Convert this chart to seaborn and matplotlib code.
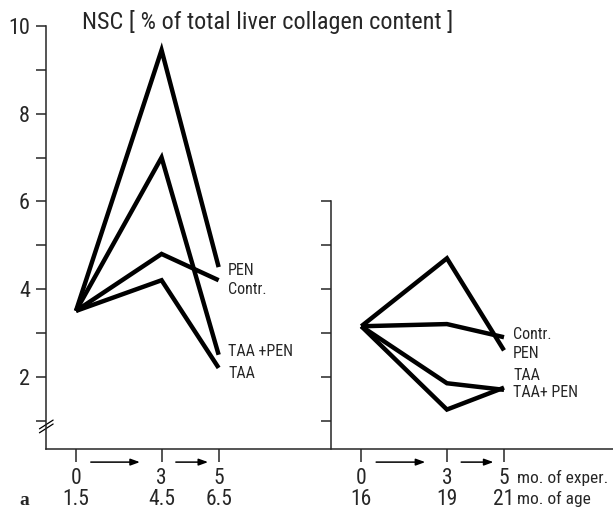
import matplotlib
matplotlib.use("Agg")
import matplotlib.pyplot as plt
from matplotlib import font_manager
import pandas as pd
import seaborn as sns

# --- data -------------------------------------------------------------
months = [0, 3, 5]
age_young = ["1.5", "4.5", "6.5"]
age_old = ["16", "19", "21"]

groups_young = ["PEN", "Contr.", "TAA +PEN", "TAA"]
young_pen = [3.5, 9.45, 4.5]
young_contr = [3.5, 4.8, 4.2]
young_taa_pen = [3.5, 7.0, 2.5]
young_taa = [3.5, 4.2, 2.2]
young_label_y = [4.43, 4.0, 2.57, 2.07]

groups_old = ["Contr.", "PEN", "TAA", "TAA+ PEN"]
old_contr = [3.15, 3.2, 2.9]
old_pen = [3.15, 4.7, 2.6]
old_taa = [3.15, 1.85, 1.7]
old_taa_pen = [3.15, 1.25, 1.75]
old_label_y = [2.97, 2.52, 2.02, 1.63]

title = "NSC [ % of total liver collagen content ]"


def long_table(groups, series):
    rows = []
    for g, vals in zip(groups, series):
        for m, v in zip(months, vals):
            rows.append({"month": m, "nsc": v, "group": g})
    return pd.DataFrame(rows)


df_young = long_table(groups_young, [young_pen, young_contr, young_taa_pen, young_taa])
df_old = long_table(groups_old, [old_contr, old_pen, old_taa, old_taa_pen])

# --- style ------------------------------------------------------------
sns.set_style("ticks")
available = {f.name for f in font_manager.fontManager.ttflist}
narrow = next((f for f in ["Liberation Sans Narrow", "DejaVu Sans Condensed",
                           "Roboto Condensed", "Liberation Sans"] if f in available),
              "DejaVu Sans")
plt.rcParams["font.family"] = [narrow, "DejaVu Sans"]
plt.rcParams["axes.linewidth"] = 1.1

W, H = 613, 518
fig = plt.figure(figsize=(W / 100, H / 100), dpi=100)

# main axes: left panel + full-width time axis
X0, X1 = -1.05, 18.82
Y0, Y1 = 0.35, 10.0
ax1 = fig.add_axes([46 / W, 1 - 449 / H, 567 / W, 423 / H])
ax1.set_xlim(X0, X1)
ax1.set_ylim(Y0, Y1)
for s in ["top", "right"]:
    ax1.spines[s].set_visible(False)

line_kw = dict(lw=3.2, solid_joinstyle="miter", solid_capstyle="butt", clip_on=False)
sns.lineplot(data=df_young, x="month", y="nsc", hue="group", units="group",
             estimator=None, palette=["black"] * 4, legend=False, ax=ax1,
             sort=False, **line_kw)

ax1.set_yticks(range(1, 11))
ax1.set_yticklabels([str(v) if v % 2 == 0 else "" for v in range(1, 11)])
ax1.tick_params(axis="y", direction="out", length=7.5, width=1.1, pad=4, labelsize=16)

right_offset = 10
ax1.set_xticks(months + [m + right_offset for m in months])
ax1.set_xticklabels([f"{m}\n{a}" for m, a in zip(months, age_young)] +
                    [f"{m}\n{a}" for m, a in zip(months, age_old)],
                    linespacing=0.98)
ax1.tick_params(axis="x", direction="out", length=9, width=1.1, pad=5, labelsize=15.5)
ax1.set_xlabel("")
ax1.set_ylabel("")

# break marks on the value axis
for dy in (0.0, 0.09):
    ax1.plot([-1.28, -0.80], [0.72 + dy, 0.92 + dy], color="black", lw=0.9, clip_on=False)

# time arrows between the sampling points
xt = ax1.get_xaxis_transform()
arrow_y = -0.031
for start, end in [(0.52, 2.24), (3.5, 4.63)]:
    for off in (0, right_offset):
        ax1.annotate("", xy=(end + off, arrow_y), xytext=(start + off, arrow_y),
                     xycoords=xt, textcoords=xt,
                     arrowprops=dict(arrowstyle="-|>,head_length=0.55,head_width=0.2",
                                     lw=1.1, color="black", shrinkA=0, shrinkB=0))

ax1.text(15.45, -0.069, "mo. of exper.", transform=xt, ha="left", va="center", fontsize=12.5)
ax1.text(15.45, -0.118, "mo. of age", transform=xt, ha="left", va="center", fontsize=12.5)

for g, y in zip(groups_young, young_label_y):
    ax1.text(5.33, y, g, ha="left", va="center", fontsize=11.5)

# right panel: older animals
RX = 8.95
ax2 = fig.add_axes([(46 + (RX - X0) * 567 / (X1 - X0)) / W, 1 - 449 / H,
                    (X1 - RX) * 567 / (X1 - X0) / W, 423 / H])
ax2.patch.set_visible(False)
ax2.set_xlim(RX - right_offset, X1 - right_offset)
ax2.set_ylim(Y0, Y1)
for s in ["top", "right", "bottom"]:
    ax2.spines[s].set_visible(False)
ax2.spines["left"].set_bounds(Y0, 6)
sns.lineplot(data=df_old, x="month", y="nsc", hue="group", units="group",
             estimator=None, palette=["black"] * 4, legend=False, ax=ax2,
             sort=False, **line_kw)
ax2.set_yticks(range(1, 7))
ax2.set_yticklabels([])
ax2.set_xticks([])
ax2.tick_params(axis="y", direction="out", length=7.5, width=1.1)
ax2.set_xlabel("")
ax2.set_ylabel("")

for g, y in zip(groups_old, old_label_y):
    ax2.text(5.32, y, g, ha="left", va="center", fontsize=11.5)

fig.text(82 / W, 1 - 22 / H, title, ha="left", va="center", fontsize=17.5)
fig.text(19 / W, 1 - 505 / H, "a", ha="left", va="baseline", fontsize=14,
         family=["Liberation Serif", "DejaVu Serif"], weight="bold")

fig.savefig("out.png", dpi=100)
